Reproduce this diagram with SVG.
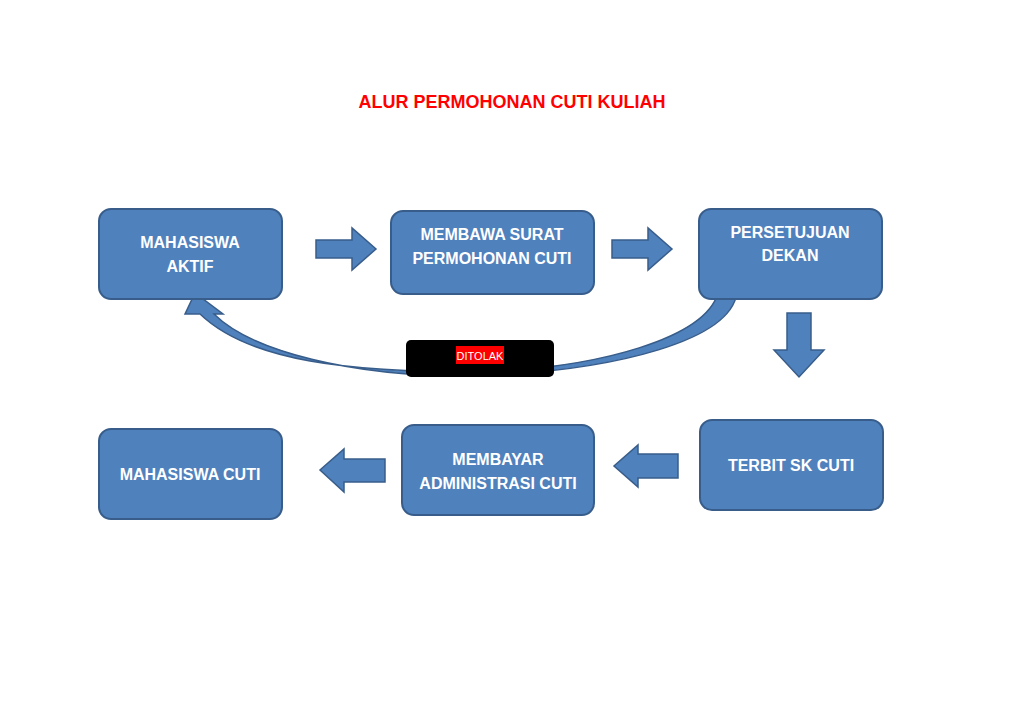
<svg xmlns="http://www.w3.org/2000/svg" width="1024" height="724" viewBox="0 0 1024 724">
<style>
.n{fill:#4F81BD;stroke:#385D8A;stroke-width:2}
.a{fill:#4F81BD;stroke:#385D8A;stroke-width:1.5}
.t{font-family:"Liberation Sans",Arial,sans-serif;font-weight:bold;font-size:16px;fill:#fff;text-anchor:middle}
</style>
<rect width="1024" height="724" fill="#fff"/>
<text x="512" y="108" style="font-family:'Liberation Sans',Arial,sans-serif;font-weight:bold;font-size:18px;fill:#FF0000;text-anchor:middle">ALUR PERMOHONAN CUTI KULIAH</text>
<g id="connectors">
<path class="a" d="M316,240 H352 V228 L376,249 L352,270 V258 H316 Z"/>
<path class="a" d="M612,240 H648 V228 L672,249 L648,270 V258 H612 Z"/>
<path class="a" d="M787,313 H811 V350 H824 L799,377 L774,350 H787 Z"/>
<path class="a" d="M678,454 H638 V445 L614,466 L638,487 V478 H678 Z"/>
<path class="a" d="M385,459 H344 V449 L320,470 L344,492 V482 H385 Z"/>
<path class="a" d="M737,293 C730,340 620,370 480,376 C350,378 250,350 214,314 L223,314 L195,293 L185,314 L200,314 C250,362 350,372 480,372 C600,368 705,338 718,293 Z"/>
<rect x="406" y="340" width="148" height="37" rx="5" fill="#000"/>
<rect x="456" y="346" width="48" height="18" fill="#FF0000"/>
<text x="480" y="360" style="font-family:'Liberation Sans',Arial,sans-serif;font-size:11px;fill:#fff;text-anchor:middle">DITOLAK</text>
</g>
<g id="n1"><rect class="n" x="99" y="209" width="183" height="90" rx="12"/><text class="t" x="190" y="248">MAHASISWA</text><text class="t" x="190" y="272">AKTIF</text></g>
<g id="n2"><rect class="n" x="391" y="211" width="203" height="83" rx="12"/><text class="t" x="492" y="240">MEMBAWA SURAT</text><text class="t" x="492" y="264">PERMOHONAN CUTI</text></g>
<g id="n3"><rect class="n" x="699" y="209" width="183" height="90" rx="12"/><text class="t" x="790" y="238">PERSETUJUAN</text><text class="t" x="790" y="261">DEKAN</text></g>
<g id="n4"><rect class="n" x="700" y="420" width="183" height="90" rx="12"/><text class="t" x="791" y="471">TERBIT SK CUTI</text></g>
<g id="n5"><rect class="n" x="402" y="425" width="192" height="90" rx="12"/><text class="t" x="498" y="465">MEMBAYAR</text><text class="t" x="498" y="489">ADMINISTRASI CUTI</text></g>
<g id="n6"><rect class="n" x="99" y="429" width="183" height="90" rx="12"/><text class="t" x="190" y="480">MAHASISWA CUTI</text></g>
</svg>
